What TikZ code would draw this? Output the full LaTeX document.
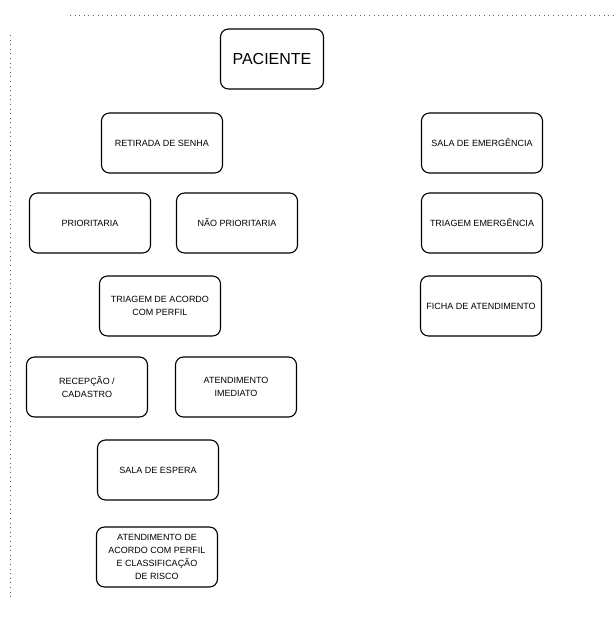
\documentclass[tikz,border=0pt]{standalone}
\usepackage{fontspec}
\setmainfont{Liberation Sans}
\usetikzlibrary{positioning}
\tikzset{
    stepbox/.style = {rectangle, rounded corners=8pt, line width=1.1pt, draw=black, align=center,
                      minimum width=121pt, minimum height=60pt, inner sep=2pt,
                      font=\fontsize{9}{13}\selectfont},
    topbox/.style = {stepbox, minimum width=103pt, font=\fontsize{16}{18}\selectfont},
    scanline/.style = {black!60, line width=0.6pt, loosely dotted}
}

\begin{document}
\begin{tikzpicture}[x=1pt,y=-1pt]
\useasboundingbox (0,0) rectangle (613,629);
% scan edges
\draw[scanline] (70,15) -- (613,15);
\draw[scanline] (10,35) -- (10,600);
%
\node[topbox] at (272, 59) (pac) {PACIENTE};
% left column
\node[stepbox] at (162,143) (senha) {RETIRADA DE SENHA};
\node[stepbox] at (90,223) (prio) {PRIORITARIA};
\node[stepbox] at (237,223) (naoprio) {NÃO PRIORITARIA};
\node[stepbox] at (160,306) (triperfil) {TRIAGEM DE ACORDO\\COM PERFIL};
\node[stepbox] at (87,387) (recep) {RECEPÇÃO /\\CADASTRO};
\node[stepbox] at (236,387) (imed) {ATENDIMENTO\\IMEDIATO};
\node[stepbox] at (158,470) (espera) {SALA DE ESPERA};
\node[stepbox] at (157,557) (atperfil) {ATENDIMENTO DE\\ACORDO COM PERFIL\\E CLASSIFICAÇÃO\\DE RISCO};
% right column
\node[stepbox] at (482,143) (salaem) {SALA DE EMERGÊNCIA};
\node[stepbox] at (482,223) (triem) {TRIAGEM EMERGÊNCIA};
\node[stepbox] at (481,306) (ficha) {FICHA DE ATENDIMENTO};

\end{tikzpicture}
\end{document}
